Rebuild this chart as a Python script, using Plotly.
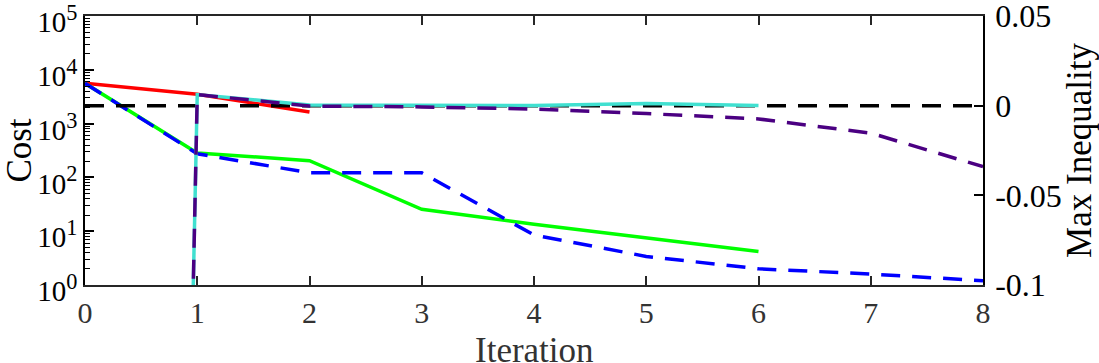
import plotly.graph_objects as go

iterations = [0, 1, 2, 3, 4, 5, 6, 7, 8]

# Cost (left, log axis)
red_x = [0, 1, 2]
red_cost = [5600, 3500, 1650]

green_x = [0, 1, 2, 3, 4, 5, 6]
green_cost = [5600, 285, 205, 25.5, 13.5, 7.6, 4.2]

blue_x = [0, 1, 2, 3, 4, 5, 6, 7, 8]
blue_cost = [5600, 275, 122, 122, 8.5, 3.4, 2.0, 1.6, 1.2]

# Max inequality (right axis)
cyan_x = [0, 1, 2, 3, 4, 5, 6]
cyan_ineq = [-3.0, 0.0062, 0.0004, 0.0003, 0.0001, 0.0012, 0.0001]

purple_x = [0, 1, 2, 3, 4, 5, 6, 7, 8]
purple_ineq = [-3.0, 0.0062, -0.0002, -0.0007, -0.0019, -0.0044, -0.0074, -0.0153, -0.0340]

zero_x = [0, 8]
zero_ineq = [0, 0]

cost_tickvals = [1, 10, 100, 1000, 10000, 100000]
cost_exponents = ["0", "1", "2", "3", "4", "5"]
cost_ticktext = ["10<sup><span style='font-size:110%'>" + e + "</span></sup>" for e in cost_exponents]
ineq_tickvals = [-0.1, -0.05, 0, 0.05]
ineq_ticktext = ["-0.1", "-0.05", "0", "0.05"]
minor_vals = [m * 10 ** d for d in range(5) for m in range(2, 10)]

FONT = "Liberation Serif, Times New Roman, serif"
W = 3.5
TITLE = 35

fig = go.Figure()
fig.add_trace(go.Scatter(x=red_x, y=red_cost, mode="lines",
                         line=dict(color="#FF0000", width=W), yaxis="y"))
fig.add_trace(go.Scatter(x=green_x, y=green_cost, mode="lines",
                         line=dict(color="#00FF00", width=W), yaxis="y"))
fig.add_trace(go.Scatter(x=blue_x, y=blue_cost, mode="lines",
                         line=dict(color="#0000FF", width=W, dash="19px,12px"), yaxis="y"))
fig.add_trace(go.Scatter(x=zero_x, y=zero_ineq, mode="lines",
                         line=dict(color="#000000", width=W, dash="19px,12px"), yaxis="y2"))
fig.add_trace(go.Scatter(x=cyan_x, y=cyan_ineq, mode="lines",
                         line=dict(color="#40E0D0", width=W), yaxis="y2"))
fig.add_trace(go.Scatter(x=purple_x, y=purple_ineq, mode="lines",
                         line=dict(color="#4B0082", width=W, dash="19px,12px"), yaxis="y2"))

fig.update_layout(
    width=1099, height=363,
    margin=dict(l=85, r=116, t=16, b=78, autoexpand=False),
    paper_bgcolor="white", plot_bgcolor="white",
    showlegend=False,
    font=dict(family=FONT, size=30, color="#000000"),
    xaxis=dict(
        range=[0, 8], tickvals=iterations, ticks="inside", ticklen=9, tickwidth=1.5,
        tickcolor="#262626", showline=True, linecolor="#262626", linewidth=1.5,
        mirror="ticks", showgrid=False, zeroline=False, automargin=False,
        ticklabeloverflow="allow",
        tickfont=dict(family=FONT, size=30, color="#333333"),
    ),
    yaxis=dict(
        type="log", range=[0, 5], tickvals=cost_tickvals, ticktext=cost_ticktext,
        ticks="inside", ticklen=9, tickwidth=1.5, tickcolor="#000000",
        showline=True, linecolor="#000000", linewidth=1.5, showgrid=False, zeroline=False,
        automargin=False, ticklabeloverflow="allow", ticklabelshift=6,
        minor=dict(tickvals=minor_vals, ticks="inside", ticklen=5, tickwidth=1.2,
                   tickcolor="#000000", showgrid=False),
        tickfont=dict(family=FONT, size=29, color="#000000"),
        title=dict(text="Cost", font=dict(family=FONT, size=TITLE, color="#000000"), standoff=4),
    ),
    yaxis2=dict(
        overlaying="y", side="right", range=[-0.1, 0.05],
        tickvals=ineq_tickvals, ticktext=ineq_ticktext,
        ticks="inside", ticklen=9, tickwidth=1.5, tickcolor="#000000",
        showline=True, linecolor="#000000", linewidth=1.5, showgrid=False, zeroline=False,
        automargin=False, ticklabeloverflow="allow", ticklabelstandoff=4,
        tickfont=dict(family=FONT, size=32, color="#000000"),
        title=dict(text="Max Inequality", font=dict(family=FONT, size=TITLE, color="#000000"), standoff=6),
    ),
    annotations=[dict(
        text="Iteration", xref="paper", yref="paper", x=0.5, y=-0.165,
        xanchor="center", yanchor="top", showarrow=False,
        font=dict(family=FONT, size=TITLE, color="#333333"),
    )],
)

fig.write_html("out.html", config={"displayModeBar": False},
               post_script="document.body.style.margin='0px';")
